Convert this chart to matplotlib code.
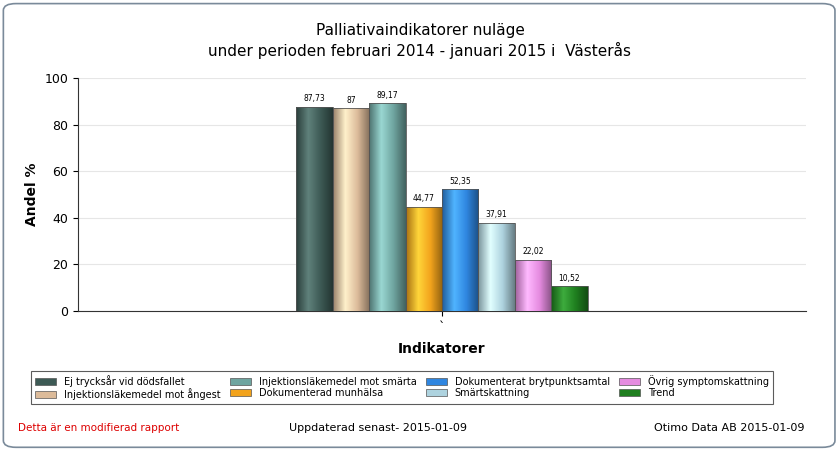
import matplotlib
matplotlib.use("Agg")
import matplotlib.pyplot as plt
import numpy as np
from matplotlib.patches import FancyBboxPatch, Rectangle
from matplotlib.colors import LinearSegmentedColormap, to_rgb

series = ["Ej trycksår vid dödsfallet", "Injektionsläkemedel mot ångest",
          "Injektionsläkemedel mot smärta", "Dokumenterad munhälsa",
          "Dokumenterat brytpunktsamtal", "Smärtskattning",
          "Övrig symptomskattning", "Trend"]
values = [87.73, 87, 89.17, 44.77, 52.35, 37.91, 22.02, 10.52]
labels = ["87,73", "87", "89,17", "44,77", "52,35", "37,91", "22,02", "10,52"]
colors = ["#3d5a55", "#dcbb9a", "#6fa5a0", "#f2a31c", "#2f86e0", "#aed3df", "#e58be0", "#1f7f1f"]
yticks = [0, 20, 40, 60, 80, 100]

fig = plt.figure(figsize=(8.4, 4.5), dpi=100)
frame = FancyBboxPatch((0.004, 0.006), 0.99, 0.986, boxstyle="round,pad=0,rounding_size=0.015",
                       transform=fig.transFigure, fc="white", ec="#7a8a9a", lw=1.2, zorder=-10)
fig.patches.append(frame)
ax = fig.add_axes([78/840, 1-311/450, 728/840, 233/450])
ax.set_zorder(1)
ax.set_xlim(-1, 1)
ax.set_ylim(0, 100)
ax.patch.set_alpha(0)
w = 0.1
for i, (v, c, lab) in enumerate(zip(values, colors, labels)):
    x0 = (i - 4) * w
    base = np.array(to_rgb(c))
    cmap = LinearSegmentedColormap.from_list("g", [base*0.7, np.minimum(base*1.15+0.1, 1), base, base*0.6])
    grad = np.linspace(0, 1, 64).reshape(1, -1)
    im = ax.imshow(grad, cmap=cmap, extent=[x0, x0+w, 0, v], aspect="auto", zorder=3)
    r = Rectangle((x0, 0), w, v, fc="none", ec="#555555", lw=0.6, zorder=4)
    ax.add_patch(r)
    im.set_clip_path(r)
    ax.text(x0 + w/2, v + 1.5, lab, ha="center", va="bottom", fontsize=5.5, zorder=5)
ax.set_xlim(-1, 1)
ax.set_ylim(0, 100)
ax.set_yticks(yticks)
ax.set_yticklabels([str(t) for t in yticks], fontsize=9)
ax.set_xticks([0])
ax.set_xticklabels(["`"], fontsize=9)
ax.grid(axis="y", color="#e6e6e6", lw=0.8, zorder=0)
for s in ["top", "right"]:
    ax.spines[s].set_visible(False)
ax.spines["left"].set_color("#333333")
ax.spines["bottom"].set_color("#333333")
ax.set_ylabel("Andel %", fontsize=10, fontweight="bold")
ax.set_xlabel("Indikatorer", fontsize=10, fontweight="bold", labelpad=6)

fig.text(0.5, 1-30/450, "Palliativaindikatorer nuläge", ha="center", va="center", fontsize=11)
fig.text(0.5, 1-50/450, "under perioden februari 2014 - januari 2015 i  Västerås", ha="center", va="center", fontsize=11)

handles = [Rectangle((0, 0), 1, 1, fc=c, ec="#555555", lw=0.5) for c in colors]
leg = fig.legend(handles, series, ncol=4, loc="upper left",
                 fontsize=7, frameon=True, fancybox=False, edgecolor="#333333",
                 handlelength=2.2, handleheight=0.8, columnspacing=1.2, borderpad=0.4,
                 labelspacing=0.15, mode="expand",
                 bbox_to_anchor=(26/840, 1-402/450, 752/840, 36/450), bbox_transform=fig.transFigure)
leg.get_frame().set_linewidth(0.8)

fig.text(18/840, 1-428/450, "Detta är en modifierad rapport", color="#dd0000", fontsize=7.5, va="center")
fig.text(378/840, 1-428/450, "Uppdaterad senast- 2015-01-09", fontsize=8, va="center", ha="center")
fig.text(805/840, 1-428/450, "Otimo Data AB 2015-01-09", fontsize=8, va="center", ha="right")
fig.savefig("out.png", dpi=100)
